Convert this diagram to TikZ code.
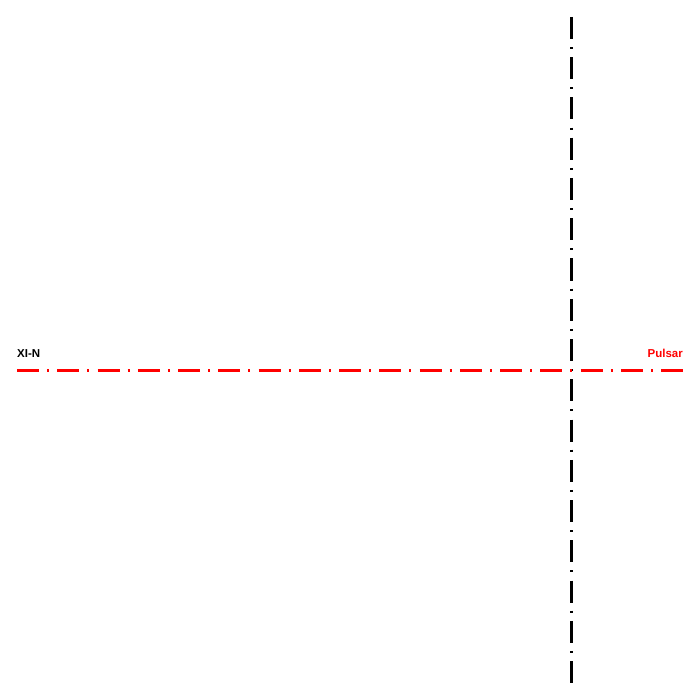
\documentclass[tikz,border=0pt]{standalone}
\usepackage{fontspec}
\setsansfont{Liberation Sans}
\usepackage{tikz}
\usetikzlibrary{positioning}
\tikzstyle{axisline}=[line width=3pt, dash pattern=on 22pt off 8.125pt on 2pt off 8.125pt]
\tikzstyle{axislabel}=[inner sep=0pt, font=\sffamily\bfseries\fontsize{11.5}{13}\selectfont]

\begin{document}
\begin{tikzpicture}[x=1pt,y=-1pt]
        \useasboundingbox (0,0) rectangle (700,700);
        % vertical axis
        \coordinate (vtop) at (571,17);
        \coordinate (vbot) at (571,683);
        \draw[axisline, black] (vtop) -- (vbot);
        % horizontal axis
        \coordinate (hleft) at (17,370);
        \coordinate (hright) at (683,370);
        \draw[axisline, red] (hleft) -- (hright);
        % labels
        \node[axislabel, anchor=base west] (nxin) at (17,357){XI-N};
        \node[axislabel, anchor=base east, text=red] (npulsar) at (683,357){Pulsar};
\end{tikzpicture}
\end{document}
